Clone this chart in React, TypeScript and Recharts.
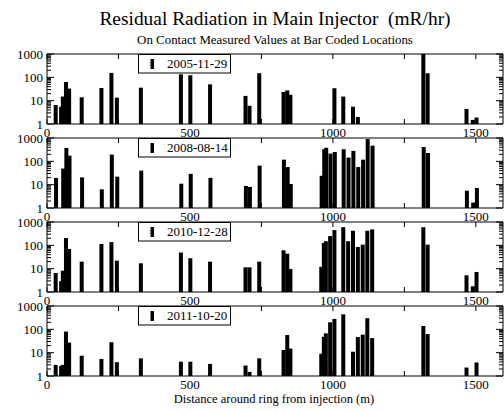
import { BarChart, Bar, XAxis, YAxis, ReferenceLine } from "recharts";

// bar-coded locations along the ring (m)
const LOCATIONS = [
  31, 50, 56, 67, 78, 122, 191, 226, 245, 329, 469, 502, 571, 695, 709, 743,
  828, 841, 852, 960, 969, 976, 991, 1006, 1037, 1054, 1071, 1088, 1105, 1121,
  1138, 1317, 1332, 1468, 1490, 1503,
];

// on contact readings (mR/hr), null = no reading
const VALUES_2005 = [
  6.5, 5.5, 15, 63, 33, 14, 35, 155, 13.4, 36, 135, 123, 50, 16, 6, 150,
  23.5, 27.5, 18, null, null, null, null, 34, 15, null, 5.5, 2, null, null,
  null, 1000, 150, 4.4, 1.5, 1.9,
];
const VALUES_2008 = [
  19.5, null, 49, 376, 175, 20.5, 6.3, 195, 22, 40, 11, 29, 19.5, 8.8, 8, 65,
  118, 57, 10.7, 24, 330, 380, 215, 250, 330, 145, 280, 57, 118, 900,
  470, 410, 228, 5.5, 1.7, 7.2,
];
const VALUES_2010 = [
  6.5, 2.9, 8.2, 205, 70, 20, 114, 138, 22, 17, 49, 28, 20, 11.4, 11.4, 20,
  61, 44, 9.7, 12, 125, 150, 250, 450, 600, 150, 420, 85, 107, 420,
  480, 600, 107, 5.2, 1.75, 7.2,
];
const VALUES_2011 = [
  3, 2.7, 3, 80, 27, 7.4, 5.4, 28, 3.9, 5.7, 4.1, 4.1, 3.3, 2.8, 1.5, 5.7,
  13, 57, 15, 9, 48, 67, 200, 280, 440, null, 11, 47, 59, 300,
  42, 139, 63, 2.3, null, 3.8,
];

const DATES = ["2005-11-29", "2008-08-14", "2010-12-28", "2011-10-20"];
const SERIES = [VALUES_2005, VALUES_2008, VALUES_2010, VALUES_2011];

const X_TICKS = [0, 250, 500, 750, 1000, 1250, 1500];
const Y_TICKS = [
  1, 2, 3, 4, 5, 6, 7, 8, 9, 10, 20, 30, 40, 50, 60, 70, 80, 90, 100, 200, 300,
  400, 500, 600, 700, 800, 900, 1000,
];
const Y_MAJOR = [1, 10, 100, 1000];
const X_MAX = 1595;

const FONT = "'Liberation Serif', 'Times New Roman', serif";
const LEFT = 47;
const PLOT_W = 456;
const PLOT_H = 70;
const TOP_PAD = 12;
const AXIS_H = 20;
const PANEL_TOPS = [54, 138, 222, 306];
const BAR_W = 4;

const BarShape = (props: any) => {
  const { x, y, width, height } = props;
  if (height == null || isNaN(height)) return null;
  const cx = x + width / 2;
  return <rect x={cx - BAR_W / 2} y={y} width={BAR_W} height={height} fill="#000" />;
};

const XTick = ({ x, y, payload }: any) => {
  const v = payload.value;
  return (
    <g>
      <line x1={x} x2={x} y1={y} y2={y - 5} stroke="#000" />
      <line x1={x} x2={x} y1={y - PLOT_H} y2={y - PLOT_H + 5} stroke="#000" />
      {v % 500 === 0 && (
        <text x={x} y={y + 13} textAnchor="middle" fontSize={13} fontFamily={FONT} fill="#000">
          {v}
        </text>
      )}
    </g>
  );
};

const YTick = ({ x, y, payload }: any) => {
  const v = payload.value;
  const major = Y_MAJOR.includes(v);
  const len = major ? 7 : 4;
  return (
    <g>
      <line x1={x} x2={x + len} y1={y} y2={y} stroke="#000" />
      <line x1={x + PLOT_W} x2={x + PLOT_W - len} y1={y} y2={y} stroke="#000" />
      {major && (
        <text x={x - 4} y={y + 4.5} textAnchor="end" fontSize={13} fontFamily={FONT} fill="#000">
          {v}
        </text>
      )}
    </g>
  );
};

function Panel({ values, top }: { values: (number | null)[]; top: number }) {
  const data = LOCATIONS.map((x, i) => ({ x, v: values[i] })).filter((d) => d.v != null);
  return (
    <div style={{ position: "absolute", left: 0, top: top - TOP_PAD }}>
      <BarChart
        width={504}
        height={TOP_PAD + PLOT_H + AXIS_H}
        data={data}
        margin={{ top: TOP_PAD, right: 504 - LEFT - PLOT_W, bottom: 0, left: 0 }}
      >
        <XAxis
          type="number"
          dataKey="x"
          domain={[0, X_MAX]}
          ticks={X_TICKS}
          interval={0}
          allowDataOverflow
          height={AXIS_H}
          tickLine={false}
          tickSize={0}
          tickMargin={0}
          axisLine={{ stroke: "#000" }}
          tick={<XTick />}
        />
        <YAxis
          type="number"
          scale="log"
          domain={[1, 1000]}
          ticks={Y_TICKS}
          interval={0}
          allowDataOverflow
          width={LEFT}
          tickLine={false}
          tickSize={0}
          tickMargin={0}
          axisLine={{ stroke: "#000" }}
          tick={<YTick />}
        />
        <ReferenceLine y={1000} stroke="#000" ifOverflow="visible" />
        <ReferenceLine x={X_MAX} stroke="#000" ifOverflow="visible" />
        <Bar dataKey="v" fill="#000" shape={BarShape} isAnimationActive={false} />
      </BarChart>
    </div>
  );
}

export default function App() {
  return (
    <div style={{ position: "absolute", left: 0, top: 0, width: 504, height: 411, background: "#fff" }}>
      {SERIES.map((values, i) => (
        <Panel key={DATES[i]} values={values} top={PANEL_TOPS[i]} />
      ))}
      <svg
        width={504}
        height={411}
        style={{ position: "absolute", left: 0, top: 0, pointerEvents: "none" }}
        fontFamily={FONT}
      >
        <text x={275} y={25} textAnchor="middle" fontSize={19.4} fill="#000" style={{ whiteSpace: "pre" }}>
          {"Residual Radiation in Main Injector  (mR/hr)"}
        </text>
        <text x={275} y={44} textAnchor="middle" fontSize={12.9} fill="#000">
          On Contact Measured Values at Bar Coded Locations
        </text>
        <text x={274} y={403} textAnchor="middle" fontSize={12.5} fill="#000">
          Distance around ring from injection (m)
        </text>
        {DATES.map((d, i) => {
          const t = PANEL_TOPS[i];
          return (
            <g key={d}>
              <rect x={138.5} y={t + 0.5} width={92} height={18.5} fill="#fff" stroke="#000" />
              <rect x={150.5} y={t + 5} width={3.5} height={10} fill="#000" />
              <text x={167} y={t + 14} fontSize={13} fill="#000">
                {d}
              </text>
            </g>
          );
        })}
      </svg>
    </div>
  );
}
